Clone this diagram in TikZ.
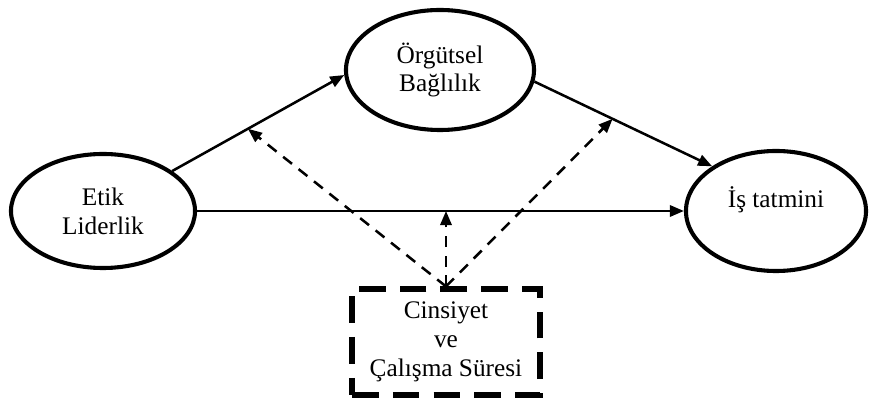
\documentclass[tikz,border=0pt]{standalone}
\usepackage{fontspec}
\setmainfont{Liberation Serif}
\usepackage{tikz}
\usetikzlibrary{positioning, calc, arrows.meta, shapes.geometric}

\begin{document}
\begin{tikzpicture}[
    x=0.025cm, y=-0.025cm,
    oval/.style={ellipse, draw, line width=2.9pt, align=center, inner sep=0pt, font=\fontsize{18}{20.5}\selectfont},
    mod_box/.style={rectangle, draw, line width=3.6pt, dash pattern=on 19pt off 10pt, align=center, minimum width=4.7cm, minimum height=2.65cm, font=\fontsize{18}{20.5}\selectfont},
    main_arrow/.style={-{Triangle[length=10pt, width=8pt]}, line width=1.8pt},
    mod_arrow/.style={-{Triangle[length=10pt, width=8pt]}, line width=1.8pt, dash pattern=on 8pt off 6pt}
]
    \useasboundingbox (0,0) rectangle (870,405);

    % Değişkenler
    \node[oval, minimum width=4.6cm, minimum height=2.85cm] (EL) at (103,211) {Etik\\Liderlik};
    \node[oval, minimum width=4.7cm, minimum height=3.0cm] (OB) at (440,70) {Örgütsel\\Bağlılık};
    \node[oval, minimum width=4.5cm, minimum height=3.0cm] (IT) at (776,211) {İş tatmini\\~};
    \node[mod_box] (CS) at (446,342) {Cinsiyet\\ve\\Çalışma Süresi};

    % Ana yollar
    \draw[main_arrow] (EL.30) -- (OB.183);
    \draw[main_arrow] (OB.-7) -- (IT.145);
    \draw[main_arrow] (EL.east) -- (IT.west);

    % Düzenleyici etkiler
    \path (EL.30) -- (OB.183) coordinate[pos=0.44] (m1);
    \path (OB.-7) -- (IT.145) coordinate[pos=0.44] (m2);
    \coordinate (m3) at (CS.north |- EL.east);
    \draw[mod_arrow] (CS.north) -- (m1);
    \draw[mod_arrow] (CS.north) -- (m2);
    \draw[mod_arrow] (CS.north) -- (m3);
\end{tikzpicture}
\end{document}
